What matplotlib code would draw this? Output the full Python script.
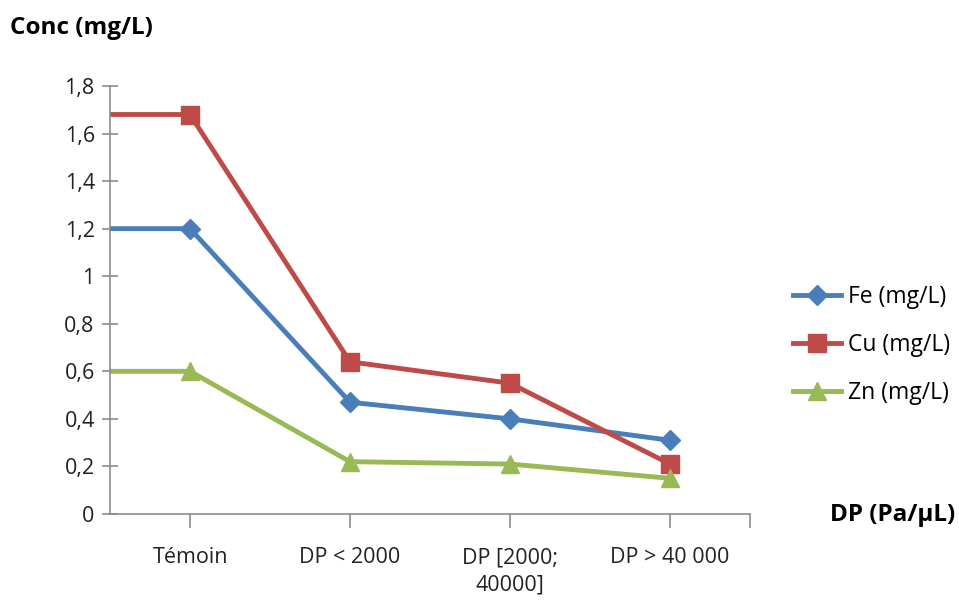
import numpy as np
import matplotlib
matplotlib.use('Agg')
import matplotlib.pyplot as plt

plt.rcParams['font.family'] = ['Open Sans', 'DejaVu Sans']

categories = ['Témoin', 'DP < 2000', 'DP [2000;\n40000]', 'DP > 40 000']
fe = [1.20, 0.47, 0.40, 0.31]
cu = [1.68, 0.64, 0.55, 0.21]
zn = [0.60, 0.22, 0.21, 0.15]
y_ticks = [0, 0.2, 0.4, 0.6, 0.8, 1.0, 1.2, 1.4, 1.6, 1.8]
y_labels = ['0', '0,2', '0,4', '0,6', '0,8', '1', '1,2', '1,4', '1,6', '1,8']

series = [
    ('Fe (mg/L)', fe, '#4a7ebb', 'D', 10),
    ('Cu (mg/L)', cu, '#be4b48', 's', 13),
    ('Zn (mg/L)', zn, '#98b954', '^', 13),
]

fig = plt.figure(figsize=(9.59, 6.02), dpi=100)
ax = fig.add_axes([0.1147, 0.1462, 0.6674, 0.711])

x = np.arange(len(categories))
for name, vals, col, mk, ms in series:
    # line starts at the axis edge at the first value, as in the original
    xs = np.concatenate([[-0.5], x])
    ys = np.concatenate([[vals[0]], vals])
    ax.plot(xs, ys, color=col, lw=3.5, marker=mk, markersize=ms,
            markevery=list(range(1, len(xs))), label=name, solid_joinstyle='round')

ax.set_xlim(-0.5, 3.5)
ax.set_ylim(0, 1.8)
ax.set_xticks(x)
ax.set_xticklabels(categories, fontsize=15.5, color='#222222', linespacing=1.4)
ax.set_xticks([3.5], minor=True)
ax.set_yticks(y_ticks)
ax.set_yticklabels(y_labels, fontsize=15.5, color='#222222')

for s in ['top', 'right']:
    ax.spines[s].set_visible(False)
for s in ['left', 'bottom']:
    ax.spines[s].set_color('#8c8c8c')
    ax.spines[s].set_linewidth(1.2)
ax.tick_params(axis='y', direction='inout', length=12, width=1.2, color='#8c8c8c', pad=5)
ax.tick_params(axis='x', which='both', direction='out', length=10, width=1.2, color='#8c8c8c', pad=14)

fig.text(10 / 959, 1 - 28 / 602, 'Conc (mg/L)', fontsize=17.5, fontweight='bold', va='center', ha='left')
fig.text(955 / 959, 1 - 515 / 602, 'DP (Pa/µL)', fontsize=17.5, fontweight='bold', va='center', ha='right')

ax.legend(loc='center left', bbox_to_anchor=(1.067, 0.395), frameon=False, fontsize=16.5,
          handlelength=2.1, handletextpad=0.3, labelspacing=1.05, borderpad=0, borderaxespad=0)

plt.savefig('out.png', dpi=100)
